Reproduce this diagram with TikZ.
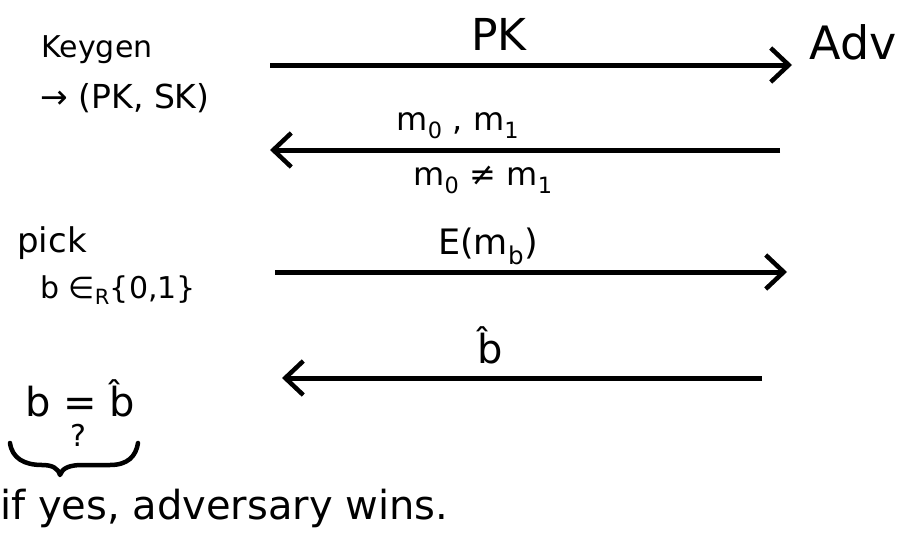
\documentclass[tikz,border=0pt]{standalone}
\usepackage{fontspec}
\setmainfont{DejaVu Sans}
\usetikzlibrary{arrows.meta}
\begin{document}
\begin{tikzpicture}[x=1pt,y=-1pt,
  txt/.style={inner sep=0pt,font=\fontsize{30}{34}\selectfont},
  big/.style={inner sep=0pt,font=\fontsize{40}{44}\selectfont},
  qsize/.style={inner sep=0pt,font=\fontsize{30}{32}\selectfont},
  msg/.style={line width=5pt,-{Straight Barb[length=18pt,width=34pt,line width=4.5pt]}},
  bracestyle/.style={line width=4.5pt,line cap=round,line join=round}]
\useasboundingbox (0,0) rectangle (913,533);
% left column
\node[txt] (keygen) at (97,50) {Keygen};
\node[txt,font=\fontsize{33}{36}\selectfont] (pksk) at (125,98) {→ (PK, SK)};
\node[txt,font=\fontsize{34}{36}\selectfont] (pick) at (52,243) {pick};
\node[txt] (bin) at (118,290) {b ∈\textsubscript{R}\{0,1\}};
\node[big] (bcheck) at (80,398) {b = b̂};
\node[qsize] (qmark) at (78,435) {?};
\node[txt,font=\fontsize{40}{44}\selectfont,anchor=west] (wins) at (0,508) {if yes, adversary wins.};
% adversary
\node[big,font=\fontsize{46}{50}\selectfont] (adv) at (853,42) {Adv};
% arrow end points
\coordinate (a1s) at (270,65);  \coordinate (a1e) at (792,65);
\coordinate (a2s) at (780,150); \coordinate (a2e) at (270,150);
\coordinate (a3s) at (275,272); \coordinate (a3e) at (787,272);
\coordinate (a4s) at (762,378); \coordinate (a4e) at (282,378);
\draw[msg] (a1s) -- (a1e);
\draw[msg] (a2s) -- (a2e);
\draw[msg] (a3s) -- (a3e);
\draw[msg] (a4s) -- (a4e);
% labels
\node[big,font=\fontsize{44}{48}\selectfont] (lpk) at (499,34) {PK};
\node[txt,font=\fontsize{32}{36}\selectfont] (lm) at (458,126) {m\textsubscript{0} , m\textsubscript{1}};
\node[txt,font=\fontsize{32}{36}\selectfont] (lneq) at (483,180) {m\textsubscript{0} ≠ m\textsubscript{1}};
\node[txt,font=\fontsize{35}{38}\selectfont] (lenc) at (488,246) {E(m\textsubscript{b})};
\node[big] (lbhat) at (490,345) {b̂};
% brace
\coordinate (br1) at (10,443);
\coordinate (brtip) at (60,475);
\coordinate (br2) at (138,443);
\draw[bracestyle] (br1) .. controls (12,458) and (24,465) .. (42,465)
  .. controls (52,465) and (58,468) .. (brtip)
  .. controls (62,468) and (70,465) .. (82,465)
  -- (110,465) .. controls (128,465) and (136,456) .. (br2);
\end{tikzpicture}
\end{document}
